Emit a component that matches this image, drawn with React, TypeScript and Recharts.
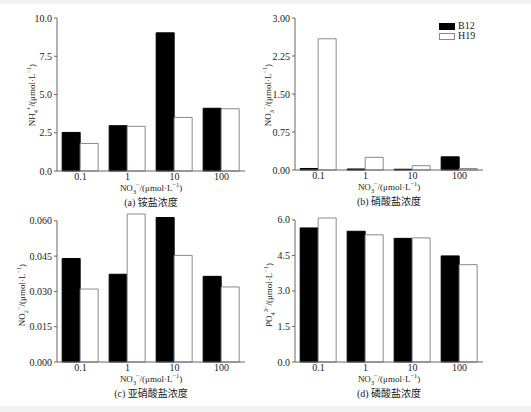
import React from "react";
import { Bar, BarChart, ReferenceLine, XAxis, YAxis } from "recharts";

const concentrations = ["0.1", "1", "10", "100"];
const seriesNames = ["B12", "H19"];
const bandEdges = [1, 2, 3, 4];

const ammoniumB12 = [2.52, 2.96, 9.03, 4.1];
const ammoniumH19 = [1.8, 2.92, 3.5, 4.07];
const ammoniumTicks = [0, 2.5, 5, 7.5, 10];

const nitrateB12 = [0.03, 0.02, 0.015, 0.26];
const nitrateH19 = [2.59, 0.25, 0.085, 0.03];
const nitrateTicks = [0, 0.75, 1.5, 2.25, 3];

const nitriteB12 = [0.044, 0.0373, 0.0614, 0.0364];
const nitriteH19 = [0.031, 0.0629, 0.0453, 0.0319];
const nitriteTicks = [0, 0.015, 0.03, 0.045, 0.06];

const phosphateB12 = [5.66, 5.52, 5.22, 4.48];
const phosphateH19 = [6.08, 5.37, 5.24, 4.11];
const phosphateTicks = [0, 1.5, 3, 4.5, 6];

const FONT = '"Liberation Serif", "Noto Sans CJK SC", serif';
const AXIS = "#666";
const TEXT = "#222";
const barStyle: Record<string, { fill: string; stroke: string }> = {
  B12: { fill: "#000", stroke: "#000" },
  H19: { fill: "#fff", stroke: "#8a8a8a" },
};

const small = { fontSize: "0.7em", lineHeight: 0 };

const Unit = () => (
  <>
    /(μmol·L<sup style={small}>−1</sup>)
  </>
);

const Ion = ({ base, sub, sup }: { base: string; sub?: string; sup: string }) => (
  <>
    {base}
    {sub && <sub style={small}>{sub}</sub>}
    <sup style={small}>{sup}</sup>
  </>
);

type PanelProps = {
  left: number;
  top: number;
  b12: number[];
  h19: number[];
  ticks: number[];
  domain: [number, number | string];
  digits: number;
  margin: { top: number; right: number; bottom: number; left: number };
  yLabel: React.ReactNode;
  yLabelX: number;
  caption: string;
};

function Panel(p: PanelProps) {
  const rows = concentrations.map((c, i) => ({ c, B12: p.b12[i], H19: p.h19[i] }));
  const topTick = p.ticks[p.ticks.length - 1];
  const plotLeft = p.left + p.margin.left + 45;
  const plotRight = p.left + 265 - p.margin.right;
  const cx = (plotLeft + plotRight) / 2;
  const plotBottom = p.top + 195 - p.margin.bottom - 16;
  return (
    <>
      <div style={{ position: "absolute", left: p.left, top: p.top }}>
        <BarChart
          width={265}
          height={195}
          data={rows}
          margin={p.margin}
          barCategoryGap="11%"
          barGap={0}
        >
          <XAxis
            xAxisId="num"
            type="number"
            domain={[0, 4]}
            ticks={bandEdges}
            height={0}
            axisLine={false}
            tickLine={{ stroke: AXIS }}
            tickSize={3}
            tick={() => <g />}
          />
          <XAxis
            xAxisId="cat"
            dataKey="c"
            height={16}
            interval={0}
            tickLine={false}
            tickSize={0}
            axisLine={{ stroke: AXIS }}
            tick={{ fontSize: 10, fill: TEXT, fontFamily: FONT }}
            tickMargin={2}
          />
          <YAxis
            type="number"
            width={45}
            domain={p.domain}
            ticks={p.ticks}
            interval={0}
            tickFormatter={(v: number) => v.toFixed(p.digits)}
            axisLine={false}
            tickLine={{ stroke: AXIS }}
            tickSize={3}
            tick={{ fontSize: 10, fill: TEXT, fontFamily: FONT }}
          />
          <ReferenceLine
            xAxisId="num"
            segment={[
              { x: 0, y: 0 },
              { x: 0, y: topTick },
            ]}
            stroke={AXIS}
          />
          {seriesNames.map((s) => (
            <Bar
              key={s}
              xAxisId="cat"
              dataKey={s}
              fill={barStyle[s].fill}
              stroke={barStyle[s].stroke}
              strokeWidth={1}
              isAnimationActive={false}
            />
          ))}
        </BarChart>
      </div>
      <div
        style={{
          position: "absolute",
          left: p.yLabelX - 60,
          top: p.top + 95 - 8,
          width: 120,
          textAlign: "center",
          transform: "rotate(-90deg)",
          fontSize: 9,
          lineHeight: "16px",
          color: TEXT,
          fontFamily: FONT,
          whiteSpace: "nowrap",
        }}
      >
        {p.yLabel}
      </div>
      <div
        style={{
          position: "absolute",
          left: cx - 60,
          top: plotBottom + 12,
          width: 120,
          textAlign: "center",
          fontSize: 9,
          lineHeight: "11px",
          color: TEXT,
          fontFamily: FONT,
          whiteSpace: "nowrap",
        }}
      >
        <Ion base="NO" sub="3" sup="−" />
        <Unit />
      </div>
      <div
        style={{
          position: "absolute",
          left: cx - 60,
          top: plotBottom + 26,
          width: 120,
          textAlign: "center",
          fontSize: 10,
          lineHeight: "12px",
          color: TEXT,
          fontFamily: FONT,
          whiteSpace: "nowrap",
        }}
      >
        {p.caption}
      </div>
    </>
  );
}

export default function App() {
  return (
    <div
      style={{
        position: "fixed",
        left: 0,
        top: 0,
        width: 531,
        height: 412,
        background: "#f1f1f1",
        overflow: "hidden",
        fontFamily: FONT,
      }}
    >
      <div style={{ position: "absolute", left: 0, top: 4, width: 531, height: 402, background: "#fff" }} />
      <Panel
        left={0}
        top={0}
        b12={ammoniumB12}
        h19={ammoniumH19}
        ticks={ammoniumTicks}
        domain={[0, 10]}
        digits={1}
        margin={{ top: 18, right: 20, bottom: 8, left: 12 }}
        yLabel={
          <>
            <Ion base="NH" sub="4" sup="+" />
            <Unit />
          </>
        }
        yLabelX={32}
        caption="(a) 铵盐浓度"
      />
      <Panel
        left={250}
        top={0}
        b12={nitrateB12}
        h19={nitrateH19}
        ticks={nitrateTicks}
        domain={[0, 3]}
        digits={2}
        margin={{ top: 18, right: 32, bottom: 9, left: 0 }}
        yLabel={
          <>
            <Ion base="NO" sub="3" sup="−" />
            <Unit />
          </>
        }
        yLabelX={268}
        caption="(b) 硝酸盐浓度"
      />
      <Panel
        left={0}
        top={200}
        b12={nitriteB12}
        h19={nitriteH19}
        ticks={nitriteTicks}
        domain={[0, "dataMax"]}
        digits={3}
        margin={{ top: 14, right: 20, bottom: 17, left: 12 }}
        yLabel={
          <>
            <Ion base="NO" sub="2" sup="−" />
            <Unit />
          </>
        }
        yLabelX={22}
        caption="(c) 亚硝酸盐浓度"
      />
      <Panel
        left={250}
        top={200}
        b12={phosphateB12}
        h19={phosphateH19}
        ticks={phosphateTicks}
        domain={[0, "dataMax"]}
        digits={1}
        margin={{ top: 18, right: 32, bottom: 17, left: 0 }}
        yLabel={
          <>
            <Ion base="PO" sub="4" sup="3−" />
            <Unit />
          </>
        }
        yLabelX={269}
        caption="(d) 磷酸盐浓度"
      />
      <div style={{ position: "absolute", left: 439, top: 21, fontSize: 10, color: TEXT, lineHeight: "10px" }}>
        {seriesNames.map((s) => (
          <div key={s} style={{ display: "flex", alignItems: "center", height: 10 }}>
            <span
              style={{
                display: "inline-block",
                width: 14,
                height: 5,
                background: barStyle[s].fill,
                border: `1px solid ${barStyle[s].stroke}`,
                marginRight: 3,
              }}
            />
            {s}
          </div>
        ))}
      </div>
    </div>
  );
}
